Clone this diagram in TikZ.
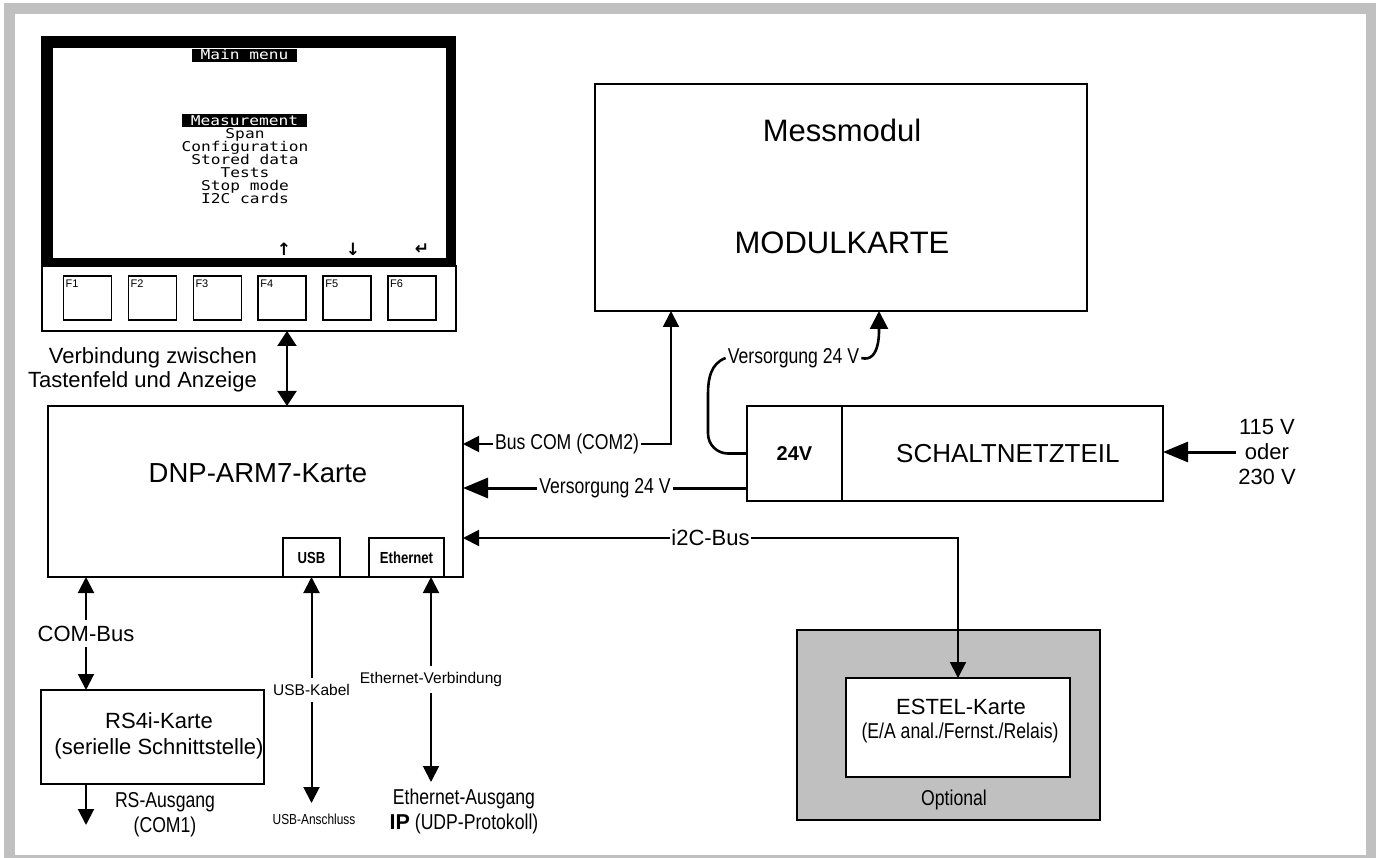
\documentclass[tikz,border=0pt]{standalone}
\usepackage{fontspec}
\setmainfont{Liberation Sans}
\newfontfamily\narrowfont[FakeStretch=0.82]{Liberation Sans}
\newfontfamily\lcdfont[FakeStretch=1.2]{DejaVu Sans Mono}
\newfontfamily\arrowfont{DejaVu Sans}
\usetikzlibrary{positioning, arrows.meta}
\definecolor{FrameGray}{RGB}{192, 192, 192}

\begin{document}
\begin{tikzpicture}[x=1pt, y=-1pt, node distance=0pt, >={Triangle[length=16pt, width=16pt]}]
    \tikzstyle{box} = [rectangle, draw, line width=1.8pt, outer sep=0pt, inner sep=0pt]
    \tikzstyle{key} = [box, line width=1.6pt, minimum width=48pt, minimum height=44pt]
    \tikzstyle{lbl} = [font=\fontsize{22}{25}\selectfont, align=center, inner sep=2pt]
    \tikzstyle{nlbl} = [font=\narrowfont\fontsize{21.5}{25}\selectfont, align=center, inner sep=2pt]
    \tikzstyle{small} = [font=\fontsize{15.5}{18}\selectfont, inner sep=2pt]
    \tikzstyle{onwire} = [fill=white, inner ysep=6pt]
    \tikzstyle{lcd} = [font=\lcdfont\fontsize{13.5}{13}\selectfont, anchor=base, inner sep=0pt]
    \tikzstyle{lcdinv} = [lcd, fill=black, text=white, inner xsep=9pt, inner ysep=0.5pt, text height=10.5pt, text depth=1.5pt]
    \tikzstyle{softkey} = [font=\arrowfont\bfseries\fontsize{17}{17}\selectfont, inner sep=0pt]
    \tikzstyle{link} = [line width=2pt, <->]
    \tikzstyle{feed} = [line width=3pt, ->, >={Triangle[length=25pt, width=20pt]}]

    \useasboundingbox (0,0) rectangle (1376,858);
    \fill[FrameGray] (4,3) rectangle (1376,858);
    \fill[white] (15,14) rectangle (1366,855);

    \node[fill=black, minimum width=415pt, minimum height=230pt, inner sep=0pt] (screen) at (248.5,151) {};
    \node[fill=white, minimum width=393pt, minimum height=210pt, inner sep=0pt] (lcdarea) at (249.5,153) {};
    \node[lcdinv] (title) at (244.5,60) {Main menu};
    \node[lcdinv] (meas) at (244.5,125.5) {Measurement};
    \foreach \entry [count=\i] in {Span, Configuration, Stored data, Tests, Stop mode, I2C cards}
        \node[lcd] (menu\i) at ({245}, {125.5+13*\i}) {\entry};
    \node[softkey] (up) at (284,249) {↑};
    \node[softkey] (down) at (353,249) {↓};
    \node[softkey] (enter) at (422,249) {↵};

    \node[box, line width=2.5pt, minimum width=414pt, minimum height=65pt] (keypad) at (249,298.5) {};
    \foreach \i in {1,...,6} {
        \node[key] (f\i) at ({87.5+64.9*(\i-1)}, 298) {};
        \node[font=\fontsize{11}{12}\selectfont, anchor=north west, inner xsep=2pt, inner ysep=4pt] at (f\i.north west) {F\i};
    }

    \node[box, minimum width=415pt, minimum height=171pt] (dnp) at (255.5,491.5) {};
    \node[lbl, font=\fontsize{27.5}{30}\selectfont] at (258,473) {DNP-ARM7-Karte};
    \node[box, minimum width=57pt, minimum height=39pt, font=\narrowfont\bfseries\fontsize{16}{18}\selectfont, anchor=south] (usb) at (311.5,577) {USB};
    \node[box, minimum width=75pt, minimum height=39pt, font=\narrowfont\bfseries\fontsize{16}{18}\selectfont, anchor=south] (eth) at (406.5,577) {Ethernet};
    \node[lbl, anchor=east, align=right, font=\fontsize{22}{24}\selectfont] (kbtext) at (259,370) {Verbindung zwischen\\Tastenfeld und Anzeige};

    \node[box, minimum width=492pt, minimum height=227pt] (mess) at (841,197.5) {};
    \node[lbl, font=\fontsize{31}{34}\selectfont] at (842,130) {Messmodul};
    \node[lbl, font=\fontsize{31}{34}\selectfont] at (842,243) {MODULKARTE};

    \node[box, minimum width=95pt, minimum height=95pt, font=\bfseries\fontsize{20}{22}\selectfont] (v24) at (794.5,453.5) {24V};
    \node[box, minimum width=321pt, minimum height=95pt, right=0pt of v24] (psu) {};
    \node[lbl, font=\fontsize{26}{28}\selectfont, right=52pt of psu.west] {SCHALTNETZTEIL};
    \node[lbl] (mains) at (1267,452) {115 V\\oder\\230 V};

    \node[box, minimum width=223pt, minimum height=94pt] (rs) at (152.5,737) {};
    \node[lbl, font=\fontsize{22}{26}\selectfont] at (159,736) {RS4i-Karte\\(serielle Schnittstelle)};

    \node[box, fill=FrameGray, minimum width=303pt, minimum height=190pt] (opt) at (948.5,725) {};
    \node[box, fill=white, minimum width=224pt, minimum height=99pt] (estel) at (958,727.5) {};
    \node[lbl] at (961,707) {ESTEL-Karte};
    \node[nlbl] at (960,733) {(E/A anal./Fernst./Relais)};
    \node[nlbl] at (954,800) {Optional};

    \node[nlbl] (vlab) at (793.5,358) {Versorgung 24 V};
    \node[nlbl] (rsout) at (165,814.5) {RS-Ausgang\\(COM1)};
    \node[font=\narrowfont\fontsize{14.5}{16}\selectfont] (usbout) at (314,819) {USB-Anschluss};
    \node[nlbl] (ethout) at (464,811.5) {Ethernet-Ausgang\\{\normalfont\bfseries IP} (UDP-Protokoll)};

    \coordinate (kb) at (287,0);
    \coordinate (busy) at (671,444);
    \coordinate (feedy) at (0,488);
    \coordinate (i2cy) at (0,538);
    \coordinate (comx) at (86,0);
    \coordinate (rsend) at (86,825);
    \coordinate (usbend) at (311.5,803);
    \coordinate (ethend) at (431,782);
    \coordinate (pwrx) at (879,0);

    \draw[link, >={Triangle[length=15pt, width=19pt]}] (kb |- keypad.south) -- (kb |- dnp.north);
    \draw[link] (busy |- mess.south) -- (busy) -- node[nlbl, fill=white] {Bus COM (COM2)} (busy -| dnp.east);
    \draw[feed] (feedy -| v24.west) -- node[nlbl, fill=white] {Versorgung 24 V} (feedy -| dnp.east);
    \draw[line width=2.6pt] (v24.west) -- ++(-19,0) to[out=180, in=-90] ++(-20,-20) -- ++(0,-40) to[out=90, in=200] (vlab.west);
    \draw[line width=2.6pt, ->, >={Triangle[length=18pt, width=18pt]}] (vlab.east) to[out=-15, in=-90] (pwrx |- mess.south);
    \draw[feed] (mains.west) -- (mains.west -| psu.east);
    \draw[link] (i2cy -| dnp.east) -- node[lbl, fill=white, inner sep=1pt] {i2C-Bus} (i2cy -| estel.north) -- (estel.north);
    \draw[link] (comx |- dnp.south) -- node[lbl, onwire] {COM-Bus} (comx |- rs.north);
    \draw[line width=2pt, ->] (comx |- rs.south) -- (rsend);
    \draw[link] (usb.south) -- node[small, onwire] {USB-Kabel} (usbend);
    \draw[link] (ethend |- eth.south) -- node[small, onwire] {Ethernet-Verbindung} (ethend);
\end{tikzpicture}
\end{document}
